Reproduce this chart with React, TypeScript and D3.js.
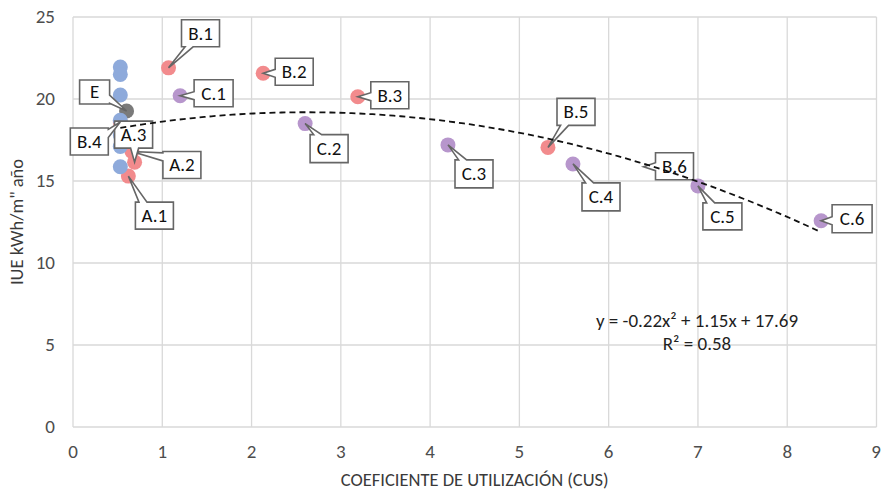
import React from "react";
import * as d3 from "d3";

// ---- data ----
const pointNames = ["A.1", "A.2", "A.3", "B.1", "B.2", "B.3", "B.4", "B.5", "B.6", "C.1", "C.2", "C.3", "C.4", "C.5", "C.6", "E"];
const cusValues = [0.62, 0.66, 0.69, 1.07, 2.13, 3.19, 0.53, 5.32, 6.39, 1.2, 2.6, 4.2, 5.6, 7.0, 8.38, 0.6];
const iueValues = [15.3, 16.8, 16.15, 21.9, 21.57, 20.14, 18.6, 17.05, 15.87, 20.2, 18.5, 17.2, 16.04, 14.7, 12.58, 19.27];
const pointGroups = ["A", "A", "A", "B", "B", "B", "B", "B", "B", "C", "C", "C", "C", "C", "C", "E"];
const otherCus = [0.53, 0.53, 0.53, 0.53, 0.53, 0.53, 0.53];
const otherIue = [21.95, 21.5, 20.24, 18.7, 17.8, 17.1, 15.87];
const xTicks = [0, 1, 2, 3, 4, 5, 6, 7, 8, 9];
const yTicks = [0, 5, 10, 15, 20, 25];
const trendCoef = [-0.22, 1.15, 17.69];
const equationText = "y = -0.22x² + 1.15x + 17.69";
const r2Text = "R² = 0.58";
const xTitle = "COEFICIENTE DE UTILIZACIÓN (CUS)";
const yTitle = "IUE kWh/m\" año";

// ---- layout / style ----
const W = 882, H = 490;
const FONT = "Carlito, Lato, 'Open Sans', sans-serif";
const groupColor: Record<string, string> = { A: "#F28B8D", B: "#F28B8D", C: "#B796CC", E: "#7A7A7A", O: "#8EAADB" };
const hiddenMarker: Record<string, boolean> = { "B.6": true };
// label box offsets from the point (px) and size
const labelBox: Record<string, [number, number, number, number]> = {
  "A.1": [7, 26, 38, 27],
  "A.2": [31, 0, 38, 27],
  "A.3": [-20, -41, 38, 27],
  "B.1": [13, -48, 38, 27],
  "B.2": [12, -15, 38, 27],
  "B.3": [13, -15, 38, 27],
  "B.4": [-50, 6, 38, 27],
  "B.5": [9, -49, 38, 27],
  "B.6": [12, -14, 38, 27],
  "C.1": [14, -16, 39, 27],
  "C.2": [5, 11, 38, 28],
  "C.3": [7, 15, 38, 28],
  "C.4": [9, 19, 38, 28],
  "C.5": [5, 17, 39, 27],
  "C.6": [11, -16, 40, 28],
  E: [-47, -31, 30, 24],
};

function calloutPath(bx: number, by: number, w: number, h: number, tx: number, ty: number) {
  const hw = 4;
  const dx = tx < bx ? bx - tx : tx > bx + w ? tx - bx - w : 0;
  const dy = ty < by ? by - ty : ty > by + h ? ty - by - h : 0;
  const clamp = (v: number, a: number, b: number) => Math.max(a, Math.min(b, v));
  let edge: string;
  if (dy >= dx) edge = ty < by ? "top" : "bottom";
  else edge = tx < bx ? "left" : "right";
  const p: [number, number][] = [];
  p.push([bx, by]);
  if (edge === "top") {
    const c = clamp(tx, bx + w * 0.2, bx + w * 0.8);
    p.push([c - hw, by], [tx, ty], [c + hw, by]);
  }
  p.push([bx + w, by]);
  if (edge === "right") {
    const c = clamp(ty, by + h * 0.2, by + h * 0.8);
    p.push([bx + w, c - hw], [tx, ty], [bx + w, c + hw]);
  }
  p.push([bx + w, by + h]);
  if (edge === "bottom") {
    const c = clamp(tx, bx + w * 0.2, bx + w * 0.8);
    p.push([c + hw, by + h], [tx, ty], [c - hw, by + h]);
  }
  p.push([bx, by + h]);
  if (edge === "left") {
    const c = clamp(ty, by + h * 0.2, by + h * 0.8);
    p.push([bx, c + hw], [tx, ty], [bx, c - hw]);
  }
  return "M" + p.map((q) => q[0].toFixed(1) + "," + q[1].toFixed(1)).join("L") + "Z";
}

export default function App() {
  const x = d3.scaleLinear().domain([0, 9]).range([73, 876.5]);
  const y = d3.scaleLinear().domain([0, 25]).range([427, 17]);

  const points = pointNames.map((n, i) => ({ name: n, cx: cusValues[i], cy: iueValues[i], g: pointGroups[i] }));
  const others = otherCus.map((v, i) => ({ cx: v, cy: otherIue[i] }));

  const allX = [...cusValues, ...otherCus];
  const x0 = d3.min(allX) as number;
  const x1 = d3.max(allX) as number;
  const trendPts = d3.range(0, 101).map((i) => {
    const xv = x0 + ((x1 - x0) * i) / 100;
    return [xv, trendCoef[0] * xv * xv + trendCoef[1] * xv + trendCoef[2]] as [number, number];
  });
  const line = d3.line<[number, number]>().x((d) => x(d[0])).y((d) => y(d[1]));

  const order = ["A", "B", "C", "E"];
  const sorted = [...points].sort((a, b) => order.indexOf(a.g) - order.indexOf(b.g));

  return (
    <svg width={W} height={H} style={{ position: "absolute", left: 0, top: 0, background: "#fff" }} fontFamily={FONT}>
      {/* gridlines */}
      {yTicks.map((t) => (
        <line key={"gy" + t} x1={x(0)} x2={x(9)} y1={y(t)} y2={y(t)} stroke="#D9D9D9" strokeWidth={1.3} />
      ))}
      {xTicks.map((t) => (
        <line key={"gx" + t} x1={x(t)} x2={x(t)} y1={y(0)} y2={y(25)} stroke="#D9D9D9" strokeWidth={1.3} />
      ))}
      {/* tick labels */}
      {yTicks.map((t) => (
        <text key={"ty" + t} x={55} y={y(t)} dy="0.33em" textAnchor="end" fontSize={19} fill="#4d4d4d">
          {t}
        </text>
      ))}
      {xTicks.map((t) => (
        <text key={"tx" + t} x={Math.min(x(t), 876)} y={452} dy="0.33em" textAnchor="middle" fontSize={19} fill="#4d4d4d">
          {t}
        </text>
      ))}
      <text x={(x(0) + x(9)) / 2} y={480} dy="0.33em" textAnchor="middle" fontSize={18.5} fill="#3a3a3a">
        {xTitle}
      </text>
      <text transform={`translate(17,${(y(0) + y(25)) / 2}) rotate(-90)`} dy="0.33em" textAnchor="middle" fontSize={18.5} fill="#3a3a3a">
        {yTitle}
      </text>

      {/* markers */}
      {sorted
        .filter((p) => !hiddenMarker[p.name])
        .map((p) => (
          <circle key={"m" + p.name} cx={x(p.cx)} cy={y(p.cy)} r={7.5} fill={groupColor[p.g]} />
        ))}
      {others.map((p, i) => (
        <circle key={"o" + i} cx={x(p.cx)} cy={y(p.cy)} r={7.5} fill={groupColor.O} />
      ))}

      {/* callout labels */}
      {points.map((p) => {
        const px = x(p.cx), py = y(p.cy);
        const [dx, dy, w, h] = labelBox[p.name];
        const bx = px + dx, by = py + dy;
        return (
          <g key={"l" + p.name}>
            <path d={calloutPath(bx, by, w, h, px, py)} fill="#fff" stroke="#666" strokeWidth={1.6} strokeLinejoin="miter" />
            <text x={bx + w / 2} y={by + h / 2} dy="0.34em" textAnchor="middle" fontSize={19} fill="#111">
              {p.name}
            </text>
          </g>
        );
      })}

      {/* trendline */}
      <path d={line(trendPts) as string} fill="none" stroke="#111" strokeWidth={1.8} strokeDasharray="6,4" />

      {/* equation */}
      <text x={697} y={327} textAnchor="middle" fontSize={19} fill="#1f1f1f">
        {equationText}
      </text>
      <text x={697} y={350} textAnchor="middle" fontSize={19} fill="#1f1f1f">
        {r2Text}
      </text>
    </svg>
  );
}
